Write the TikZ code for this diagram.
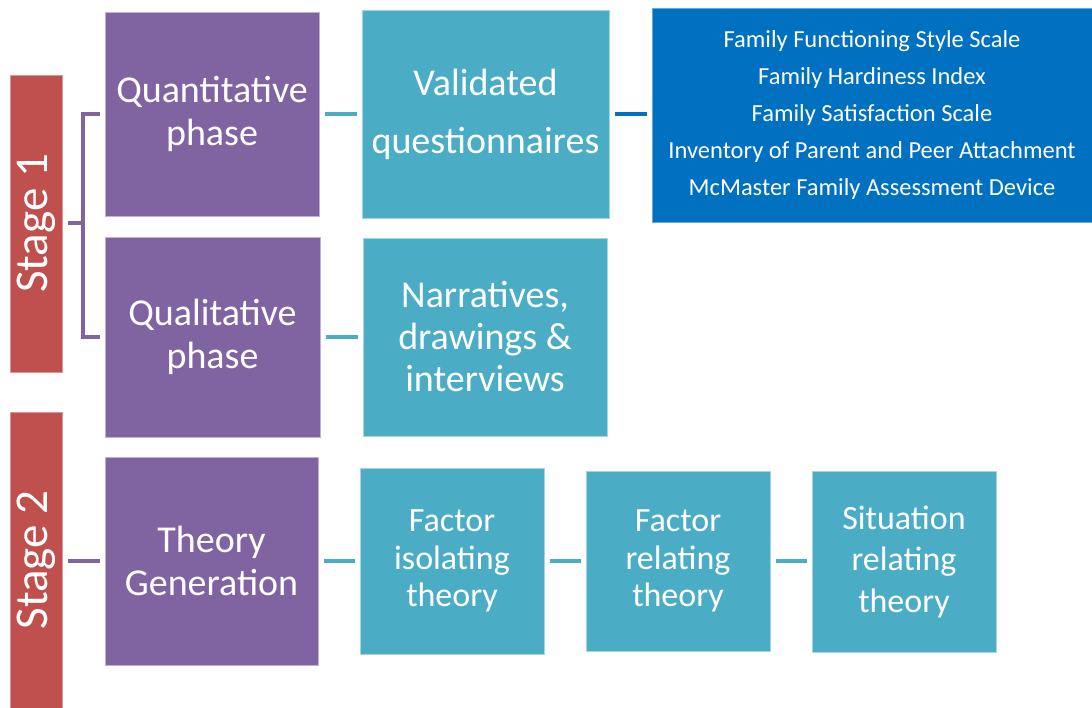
\documentclass[tikz,border=0pt]{standalone}
\usepackage{fontspec}
\setmainfont{Carlito}
\definecolor{cred}{RGB}{192,80,77}
\definecolor{cpur}{RGB}{128,100,162}
\definecolor{ctea}{RGB}{75,172,198}
\definecolor{cblu}{RGB}{0,112,192}
\tikzset{
  box/.style={rectangle, inner sep=0pt, text=white, align=center, line width=0.8pt},
  stagebox/.style={box, fill=cred, draw=cred!60!white, rotate=90, font=\fontsize{47}{52}\selectfont},
  purbox/.style={box, fill=cpur, draw=cpur!50!white, font=\fontsize{38}{43}\selectfont},
  teabox/.style={box, fill=ctea, draw=ctea!50!white, font=\fontsize{38}{42}\selectfont},
  listbox/.style={box, fill=cblu, draw=cblu!60!white, font=\fontsize{24.5}{37}\selectfont},
  conn/.style={line width=4pt, shorten <=6pt, shorten >=5pt},
}
\begin{document}
\begin{tikzpicture}[x=1pt,y=-1pt]
\useasboundingbox (0,0) rectangle (1092,708);
% stages
\node[stagebox, minimum width=297, minimum height=52] (s1) at (36,223.5) {Stage 1};
\node[stagebox, minimum width=296, minimum height=52] (s2) at (36,560) {Stage 2};
% purple
\node[purbox, minimum width=214, minimum height=204] (quant) at (212,114) {Quantitative\\phase};
\node[purbox, minimum width=215, minimum height=200] (qual) at (212.5,337) {Qualitative\\phase};
\node[purbox, minimum width=213, minimum height=208] (theory) at (211.5,561) {Theory\\Generation};
% teal
\node[teabox, minimum width=247, minimum height=208, font=\fontsize{38}{58}\selectfont] (valid) at (485.5,114) {Validated\\questionnaires};
\node[teabox, minimum width=244, minimum height=198] (narr) at (485,337) {Narratives,\\drawings \&\\interviews};
\node[teabox, minimum width=184, minimum height=186, font=\fontsize{34}{37.5}\selectfont] (fiso) at (452,561) {Factor\\isolating\\theory};
\node[teabox, minimum width=184, minimum height=180, font=\fontsize{34}{37.5}\selectfont] (frel) at (678,561) {Factor\\relating\\theory};
\node[teabox, minimum width=184, minimum height=181, font=\fontsize{34}{41.5}\selectfont] (sit) at (904,561.5) {Situation\\relating\\theory};
% list
\node[listbox, minimum width=440, minimum height=214] (list) at (872,115) {Family Functioning Style Scale\\Family Hardiness Index\\Family Satisfaction Scale\\Inventory of Parent and Peer Attachment\\McMaster Family Assessment Device};
% connectors
\coordinate (bx) at (83,225);
\draw[conn, cpur, shorten >=0pt] (s1.south) -- (s1.south -| bx);
\draw[conn, cpur, shorten <=5pt] (quant.west) -| (bx) |- (qual.west);
\draw[conn, cpur] (s2.south |- theory.west) -- (theory.west);
\draw[conn, ctea] (quant.east) -- (valid.west);
\draw[conn, ctea] (qual.east) -- (narr.west);
\draw[conn, cblu] (valid.east) -- (list.west |- valid.east);
\draw[conn, ctea] (theory.east) -- (fiso.west);
\draw[conn, ctea] (fiso.east) -- (frel.west);
\draw[conn, ctea] (frel.east) -- (sit.west |- frel.east);
\end{tikzpicture}
\end{document}
